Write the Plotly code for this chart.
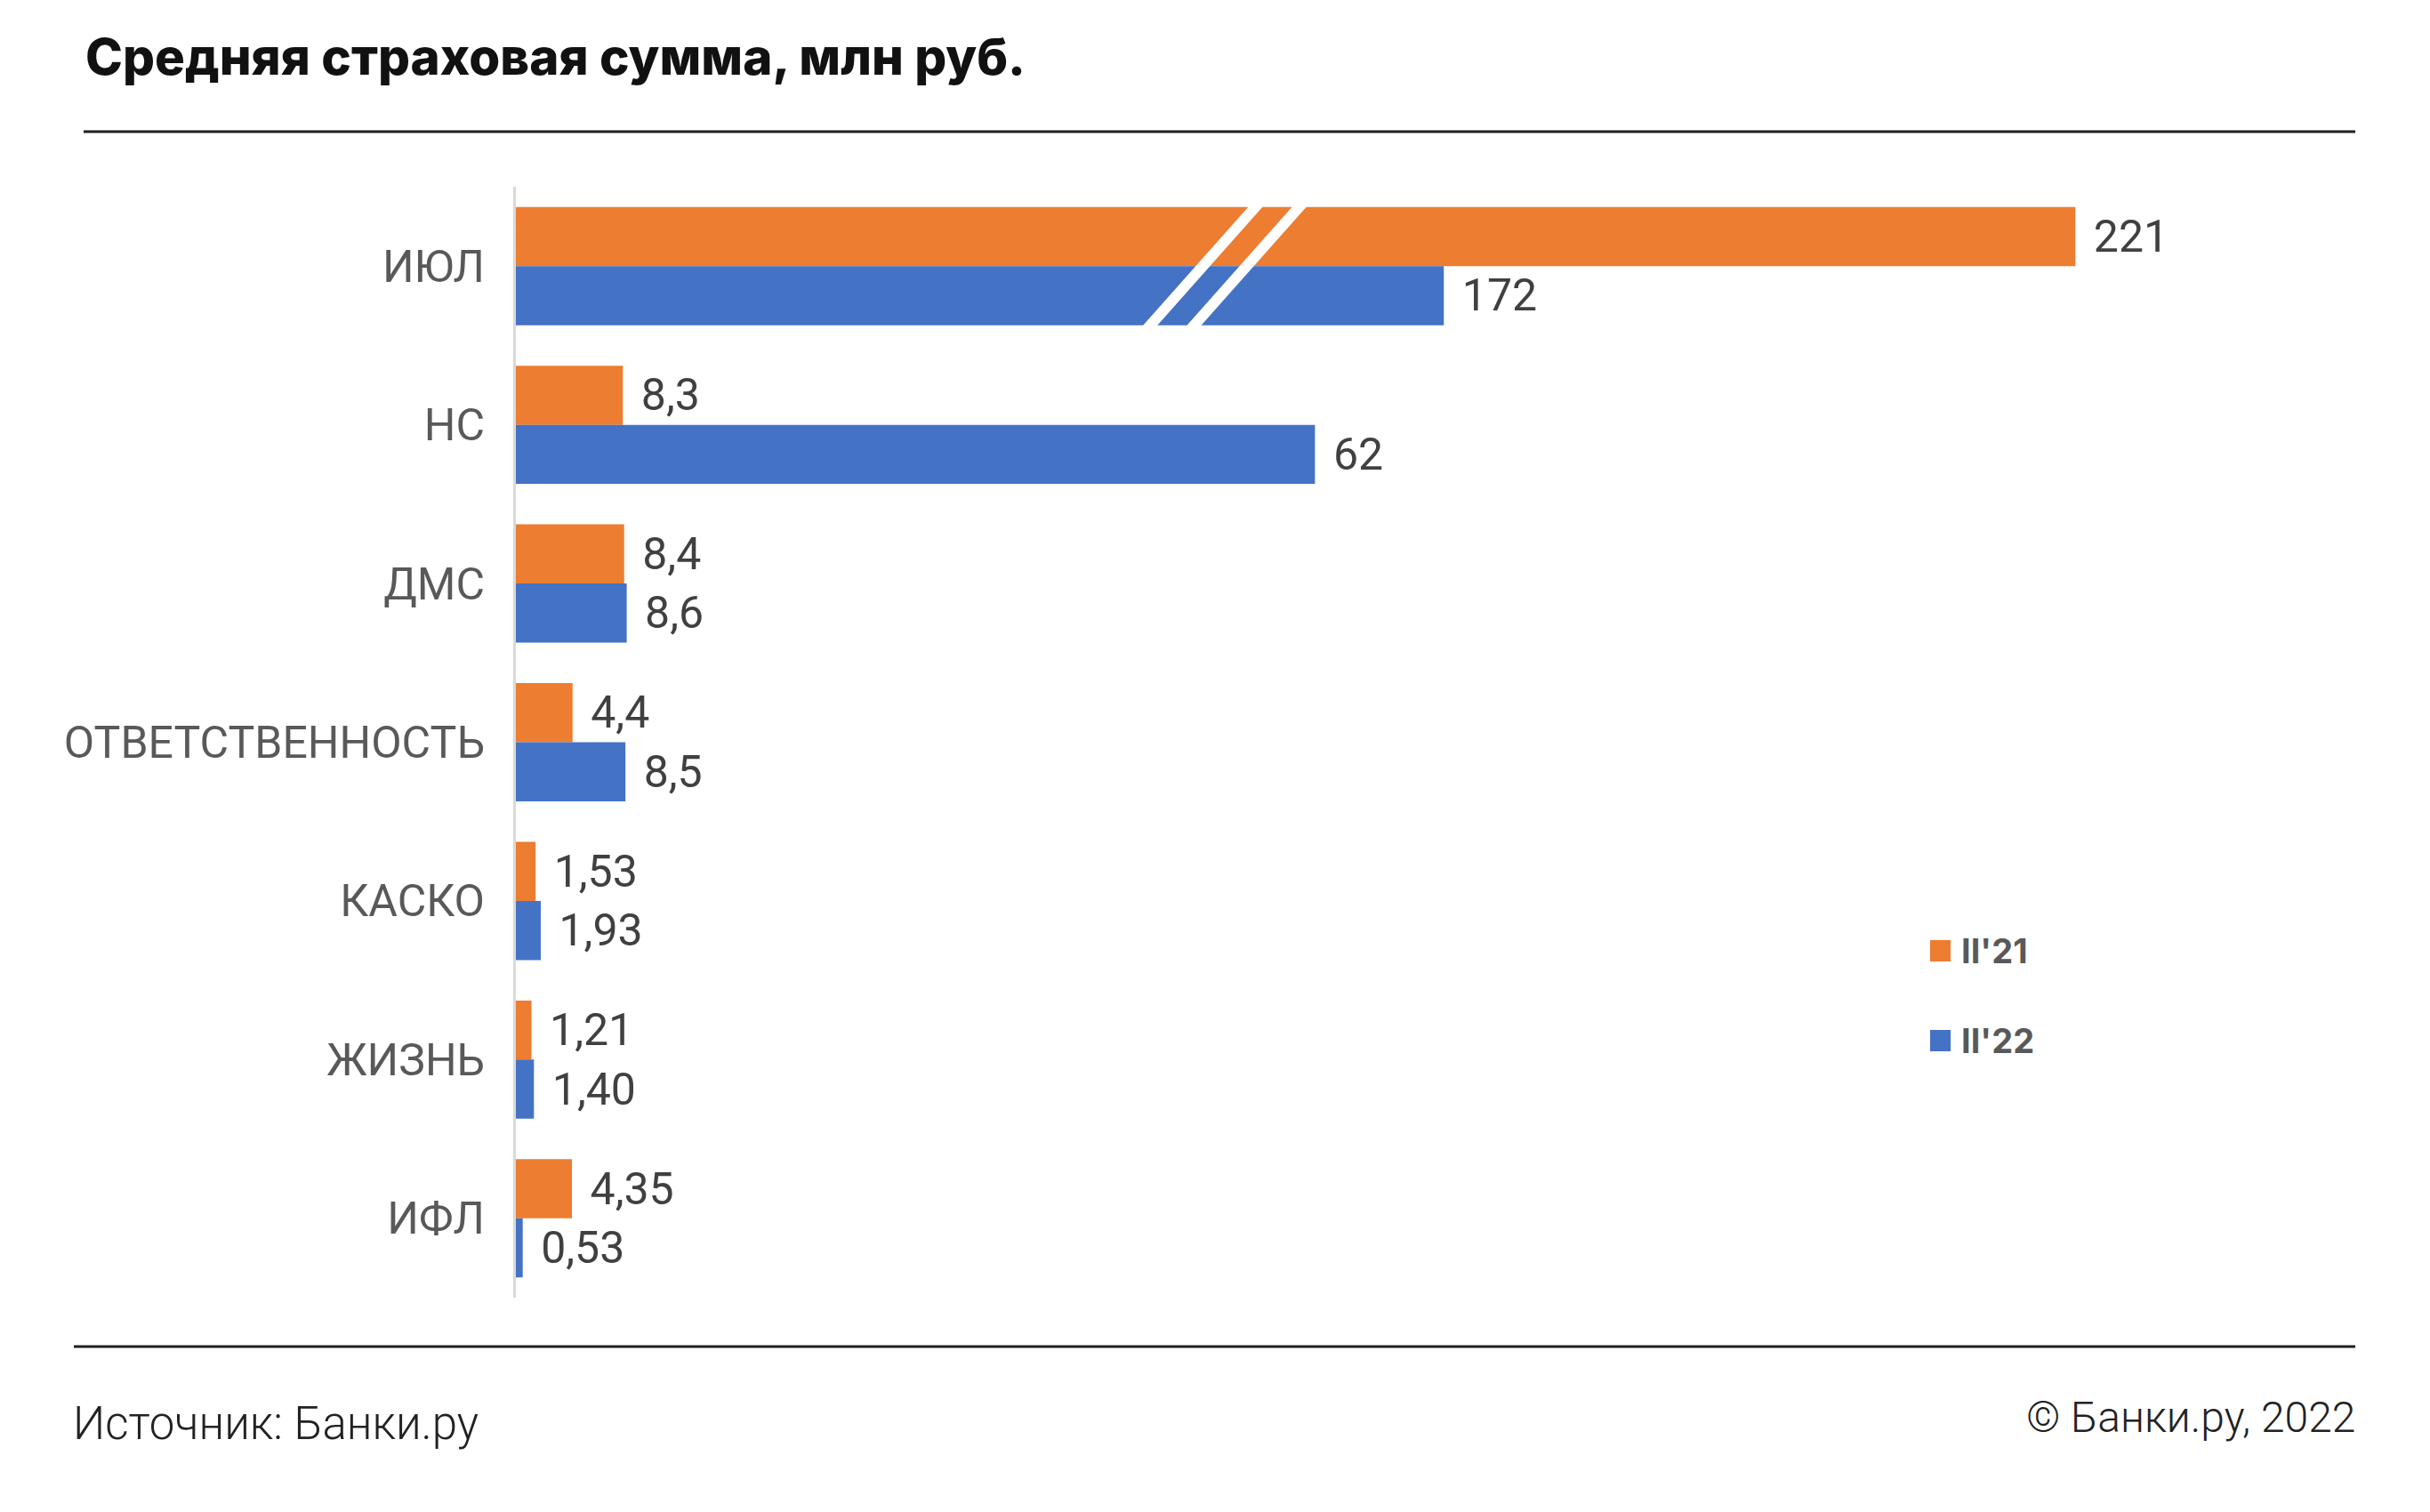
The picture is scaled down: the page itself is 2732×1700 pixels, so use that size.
import plotly.graph_objects as go

# ---------------- data ----------------
categories = ["ИЮЛ", "НС", "ДМС", "ОТВЕТСТВЕННОСТЬ", "КАСКО", "ЖИЗНЬ", "ИФЛ"]
series_names = ["II'21", "II'22"]
values_21 = [221, 8.3, 8.4, 4.4, 1.53, 1.21, 4.35]
values_22 = [172, 62, 8.6, 8.5, 1.93, 1.40, 0.53]
decimals_21 = [0, 1, 1, 1, 2, 2, 2]
decimals_22 = [0, 0, 1, 1, 2, 2, 2]
colors = ["#ED7D31", "#4472C4"]

# broken value axis: bars of this category are drawn with part of the axis cut out
BROKEN_CATEGORY = "ИЮЛ"
BREAK_SHIFT = 100      # units of the axis removed by the break
BREAK_POS = 55         # where the break marks are drawn (displayed units)

title_text = "Средняя страховая сумма, млн руб."
source_text = "Источник: Банки.ру"
copyright_text = "© Банки.ру, 2022"

# ---------------- layout geometry ----------------
W, H = 2732, 1700
PL, PR, PT, PB = 580, 2648, 210, 1459      # plot area in pixels
PX_PER_UNIT = 14.49
X_MAX = (PR - PL) / PX_PER_UNIT
BARGAP = 0.255


def px(x):
    return (x - PL) / (PR - PL)


def py(y):
    return (PB - y) / (PB - PT)


def shown(cat, v):
    return v - BREAK_SHIFT if cat == BROKEN_CATEGORY else v


def fmt(v, d):
    return f"{v:.{d}f}".replace(".", ",")


fig = go.Figure()
for name, vals, decs, col in zip(series_names, [values_21, values_22],
                                 [decimals_21, decimals_22], colors):
    fig.add_trace(go.Bar(
        name=name,
        y=categories,
        x=[shown(c, v) for c, v in zip(categories, vals)],
        orientation="h",
        marker=dict(color=col, line=dict(width=0)),
        text=[fmt(v, d) for v, d in zip(vals, decs)],
        texttemplate="\u00a0\u200a%{text}",
        textposition="outside",
        constraintext="none",
        cliponaxis=False,
        textfont=dict(family="Roboto", size=50, color="#404040"),
        showlegend=False,
        hoverinfo="skip",
    ))

shapes = []
# break marks across the broken category's bars
idx = categories.index(BROKEN_CATEGORY)
half_h = (1 - BARGAP) / 2 * 1.08
half_dx = 10.93 * half_h
for off in (-1.7, 1.7):
    cx = BREAK_POS + off
    shapes.append(dict(type="line", xref="x", yref="y",
                       x0=cx + half_dx, y0=idx - half_h,
                       x1=cx - half_dx, y1=idx + half_h,
                       line=dict(color="white", width=12), layer="above"))

# horizontal rules
shapes.append(dict(type="line", xref="paper", yref="paper",
                   x0=px(94), x1=px(2648), y0=py(148), y1=py(148),
                   line=dict(color="#1f1f1f", width=3)))
shapes.append(dict(type="line", xref="paper", yref="paper",
                   x0=px(83), x1=px(2648), y0=py(1514), y1=py(1514),
                   line=dict(color="#1f1f1f", width=3)))

annotations = []
# legend (drawn manually for larger swatches)
legend_y = [1069, 1170]
for name, col, ly in zip(series_names, colors, legend_y):
    shapes.append(dict(type="rect", xref="paper", yref="paper",
                       x0=px(2170), x1=px(2193), y0=py(ly - 12), y1=py(ly + 12),
                       fillcolor=col, line=dict(width=0)))
    annotations.append(dict(xref="paper", yref="paper", x=px(2203), y=py(ly),
                            xanchor="left", yanchor="middle", showarrow=False,
                            text=name,
                            font=dict(family="Inter", size=38, color="#595959",
                                      weight=700)))

annotations.append(dict(xref="paper", yref="paper", x=px(94), y=py(64),
                        xanchor="left", yanchor="middle", showarrow=False,
                        text=title_text,
                        font=dict(family="Inter", size=56.5, color="#111111",
                                  weight=800)))
annotations.append(dict(xref="paper", yref="paper", x=px(80), y=py(1600),
                        xanchor="left", yanchor="middle", showarrow=False,
                        text=source_text,
                        font=dict(family="Roboto", size=51, color="#222222",
                                  weight=300)))
annotations.append(dict(xref="paper", yref="paper", x=px(2650), y=py(1593),
                        xanchor="right", yanchor="middle", showarrow=False,
                        text=copyright_text,
                        font=dict(family="Roboto", size=48, color="#222222",
                                  weight=300)))

fig.update_layout(
    width=W, height=H, autosize=False,
    margin=dict(l=PL, r=W - PR, t=PT, b=H - PB, pad=0),
    paper_bgcolor="white", plot_bgcolor="white",
    barmode="group", bargap=BARGAP, bargroupgap=0,
    showlegend=False,
    shapes=shapes,
    annotations=annotations,
    xaxis=dict(range=[0, X_MAX], visible=False, showgrid=False, zeroline=False),
    yaxis=dict(categoryorder="array", categoryarray=categories,
               autorange="reversed", showgrid=False, zeroline=False,
               showline=True, linecolor="#d9d9d9", linewidth=3,
               ticks="", ticklabelstandoff=22,
               tickfont=dict(family="Roboto", size=50, color="#595959"),
               automargin=False),
    font=dict(family="Roboto"),
)

fig.write_html("out.html", config={"displayModeBar": False},
               post_script="document.body.style.margin='0';")
